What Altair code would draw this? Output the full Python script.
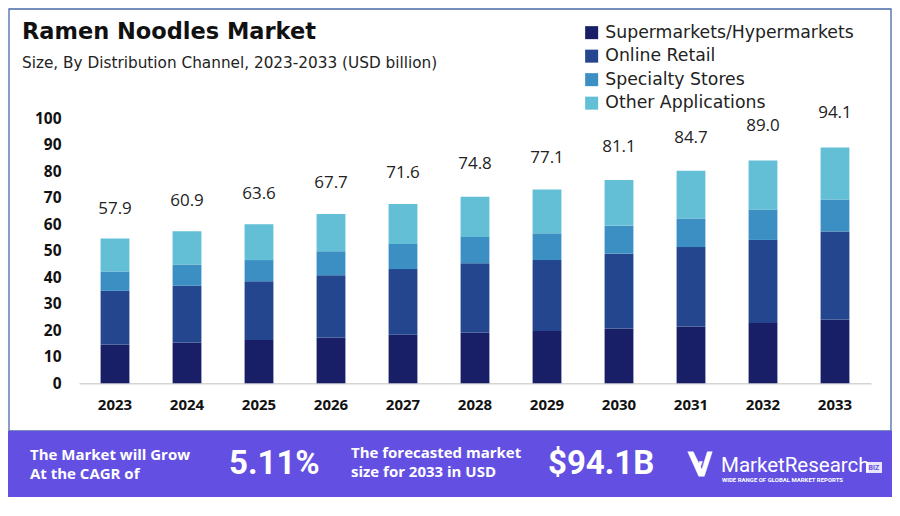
import altair as alt
import pandas as pd

# ---- data ----
years = ["2023", "2024", "2025", "2026", "2027", "2028", "2029", "2030", "2031", "2032", "2033"]
channels = ["Supermarkets/Hypermarkets", "Online Retail", "Specialty Stores", "Other Applications"]
supermarkets = [14.6, 15.4, 16.3, 17.3, 18.3, 19.2, 19.7, 20.7, 21.4, 22.8, 24.1]
online_retail = [20.3, 21.4, 22.2, 23.5, 24.8, 26.1, 26.8, 28.2, 30.0, 31.3, 33.2]
specialty = [7.3, 8.0, 8.0, 9.0, 9.5, 9.9, 10.1, 10.6, 10.8, 11.5, 12.1]
other_apps = [12.4, 12.6, 13.5, 14.1, 15.1, 15.2, 16.5, 17.2, 18.0, 18.5, 19.6]
totals = [57.9, 60.9, 63.6, 67.7, 71.6, 74.8, 77.1, 81.1, 84.7, 89.0, 94.1]
y_ticks = [0, 10, 20, 30, 40, 50, 60, 70, 80, 90, 100]
colors = ["#181f66", "#24468f", "#3b8fc2", "#62bfd5"]

title_text = "Ramen Noodles Market"
subtitle_text = "Size, By Distribution Channel, 2023-2033 (USD billion)"
banner_left = ["The Market will Grow", "At the CAGR of"]
banner_cagr = "5.11%"
banner_mid = ["The forecasted market", "size for 2033 in USD"]
banner_size = "$94.1B"
brand = "MarketResearch"
brand_tag = "WIDE RANGE OF GLOBAL MARKET REPORTS"

# ---- tables ----
rows = []
for i, y in enumerate(years):
    for k, (name, series) in enumerate(zip(channels, [supermarkets, online_retail, specialty, other_apps])):
        rows.append({"year": y, "channel": name, "value": series[i], "idx": k})
bars_df = pd.DataFrame(rows)
tot_df = pd.DataFrame({"year": years, "total": totals,
                       "label": [f"{t:.1f}" for t in totals]})

# page -> plot coordinates (plot origin at page (79, 118.3))
X0, Y0 = 79, 118.3
def px(x):
    return x - X0
def py(y):
    return y - Y0

FONT = "Open Sans"
WIDE = "DejaVu Sans"
one = pd.DataFrame({"k": [0]})

frame = alt.Chart(one).mark_rect(filled=False, stroke="#4a6aa8", strokeWidth=1.3).encode(
    x=alt.value(px(9)), x2=alt.value(px(891)), y=alt.value(py(9)), y2=alt.value(py(431)))
banner = alt.Chart(one).mark_rect(fill="#6350e3").encode(
    x=alt.value(px(8)), x2=alt.value(px(893)), y=alt.value(py(431)), y2=alt.value(py(497)))

y_scale = alt.Scale(domain=[0, 100])
x_scale = alt.Scale(paddingInner=0.6, paddingOuter=0.3)
x_axis = alt.Axis(labelAngle=0, labelFont=FONT, labelFontSize=15, labelFontWeight="bold",
                  labelColor="#111", labelPadding=14, ticks=False,
                  domainColor="#d4d4d4", domainWidth=1.5)
y_axis = alt.Axis(values=y_ticks, labelFont=FONT, labelFontSize=15.5,
                  labelFontWeight="bold", labelColor="#111", labelPadding=18,
                  labelOverlap=False, ticks=False, domain=False, grid=False)

bars = alt.Chart(bars_df).mark_bar().encode(
    x=alt.X("year:O", title=None, scale=x_scale, axis=x_axis),
    y=alt.Y("value:Q", stack="zero", title=None, scale=y_scale, axis=y_axis),
    color=alt.Color("channel:N", sort=channels,
                    scale=alt.Scale(domain=channels, range=colors),
                    legend=alt.Legend(title=None, orient="none", legendX=px(583), legendY=py(24),
                                      symbolType="square", symbolSize=169, symbolStrokeWidth=0,
                                      labelFont=WIDE, labelFontSize=17.3, labelColor="#222",
                                      labelLimit=0, rowPadding=5.5, labelOffset=5, padding=0)),
    order=alt.Order("idx:Q", sort="ascending"),
)

labels = alt.Chart(tot_df).mark_text(font=FONT, fontSize=17, color="#222", dy=-21,
                                     baseline="middle").encode(
    x=alt.X("year:O", title=None, scale=x_scale, axis=x_axis),
    y=alt.Y("total:Q", title=None, scale=y_scale, axis=y_axis),
    text="label:N")

def txt(text, x, y, size, weight="normal", color="#111", font=FONT, align="left"):
    return alt.Chart(pd.DataFrame({"t": [text]})).mark_text(
        font=font, fontSize=size, fontWeight=weight, color=color, align=align,
        baseline="alphabetic").encode(x=alt.value(px(x)), y=alt.value(py(y)), text="t:N")

title = txt(title_text, 22, 39.5, 22.5, "bold", "#111", font=WIDE)
subtitle = txt(subtitle_text, 22, 68.5, 15.3, "normal", "#222", font=WIDE)
b1 = txt(banner_left[0], 30, 460, 15, "bold", "white")
b2 = txt(banner_left[1], 30, 479, 15, "bold", "white")
b3 = txt(banner_cagr, 229, 474, 33, "bold", "white", font="Roboto")
b4 = txt(banner_mid[0], 351, 458, 15, "bold", "white")
b5 = txt(banner_mid[1], 351, 477, 15, "bold", "white")
b6 = txt(banner_size, 548, 474, 33, "bold", "white", font="Roboto")
b7 = txt(brand, 721, 472.5, 20.5, "normal", "white", font="Roboto")
b8 = txt(brand_tag, 722, 482.5, 6, "bold", "white", font="Roboto")
biz_box = alt.Chart(one).mark_rect(fill="white", opacity=0.85).encode(
    x=alt.value(px(866)), x2=alt.value(px(882)), y=alt.value(py(462)), y2=alt.value(py(473)))
biz = txt("BIZ", 874, 470.5, 7, "bold", "#6350e3", font="Roboto", align="center")
check = alt.Chart(one).mark_point(
    shape="M -1 -1 L -0.1 1 L 0.35 1 L 1 -1 L 0.6 -1 L 0.15 0.45 L -0.55 -1 Z M -0.55 -0.2 L -0.1 0.6 L 0.2 -0.2 L -0.05 -0.2 L -0.1 0.05 L -0.3 -0.2 Z",
    filled=True, fill="white", stroke="white", strokeWidth=0.5, opacity=1, size=600).encode(
    x=alt.value(px(700)), y=alt.value(py(464)))

chart = alt.layer(frame, banner, bars, labels, title, subtitle, b1, b2, b3, b4, b5, b6,
                  b7, b8, biz_box, biz, check).properties(
    width=792, height=265,
    autosize=alt.AutoSizeParams(type="none"),
    padding={"left": 71, "top": 110.3, "right": 20.5, "bottom": 122},
    background="white",
).configure_view(stroke=None).configure_axisY(labelOverlap=False)

chart.save("out.html", embed_options={"renderer": "svg", "actions": False})
